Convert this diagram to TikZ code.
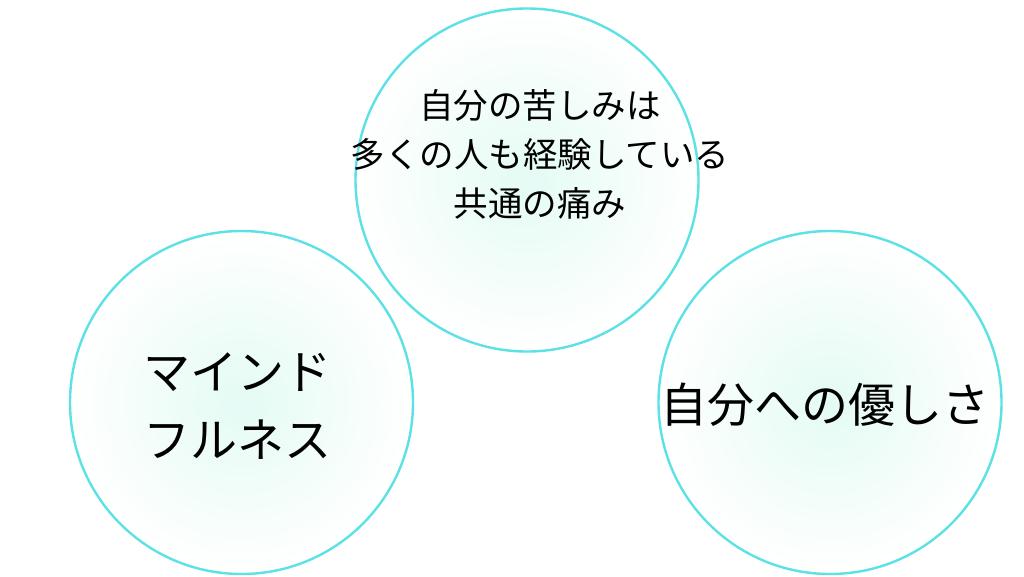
\documentclass[tikz,border=0pt]{standalone}
\usepackage{fontspec}
\newfontfamily\jp{Noto Sans CJK JP}
\definecolor{ringcyan}{HTML}{5CE1E6}
\definecolor{mintcore}{HTML}{E4FBF4}
\begin{document}
\begin{tikzpicture}[x=1pt,y=-1pt,
  ring/.style={circle,draw=ringcyan,line width=2.4pt,minimum size=343pt,inner sep=0pt,
    shading=radial,inner color=mintcore,outer color=white},
  label/.style={align=center,inner sep=0pt,font=\jp}]
\useasboundingbox[fill=white] (0,0) rectangle (1024,576);
\node[ring] (top) at (527,180) {};
\node[ring] (left) at (241.5,402.5) {};
\node[ring] (right) at (830,402.5) {};
\node[label,font=\jp\fontsize{34.5}{49}\selectfont] (toptext) at (540,154) {自分の苦しみは\\多くの人も経験している\\共通の痛み};
\node[label,font=\jp\fontsize{47}{68}\selectfont] (lefttext) at (237,406) {マインド\\フルネス};
\node[label,font=\jp\fontsize{47}{68}\selectfont] (righttext) at (825,405) {自分への優しさ};
\end{tikzpicture}
\end{document}
